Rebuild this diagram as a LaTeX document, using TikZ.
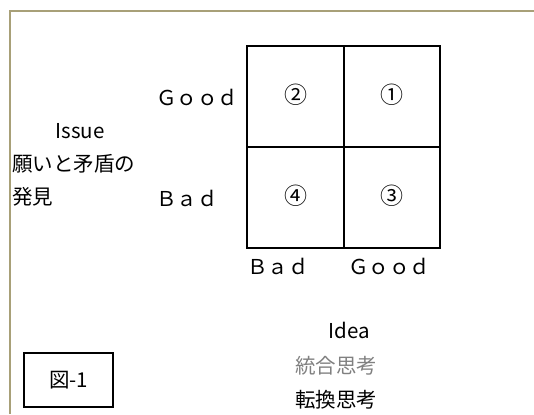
\documentclass[tikz,border=0pt]{standalone}
\usepackage{fontspec}
\setmainfont{Noto Sans CJK JP}
\definecolor{frameol}{RGB}{168,160,120}
\definecolor{midgray}{RGB}{128,128,128}
\tikzset{
  txt/.style={inner sep=0pt, font=\fontsize{20.5}{20.5}\selectfont},
  num/.style={inner sep=0pt, font=\fontsize{23}{23}\selectfont},
  gridline/.style={line width=1.8pt, black},
}
\begin{document}
\begin{tikzpicture}[x=1pt,y=-1pt]
\useasboundingbox (0,0) rectangle (534,414);
% frame
\draw[frameol, line width=2.2pt] (10,414) -- (10,11) -- (534,11);
% grid
\coordinate (g1) at (247,46);
\coordinate (g2) at (440,248);
\draw[gridline] (g1) rectangle (g2);
\draw[gridline] (344,46) -- (344,248);
\draw[gridline] (247,147) -- (440,147);
% quadrant labels
\node[num] (q2) at (296,95) {②};
\node[num] (q1) at (392,95) {①};
\node[num] (q4) at (296,196) {④};
\node[num] (q3) at (392,196) {③};
% axis labels
\node[txt, anchor=west] (ygood) at (156,97) {Ｇｏｏｄ};
\node[txt, anchor=west] (ybad) at (156,198) {Ｂａｄ};
\node[txt, anchor=west] (xbad) at (247,266) {Ｂａｄ};
\node[txt, anchor=west] (xgood) at (348,266) {Ｇｏｏｄ};
% issue
\node[txt] (issue) at (80,131) {Issue};
\node[txt, anchor=west] (wish) at (12,164) {願いと矛盾の};
\node[txt, anchor=west] (find) at (12,197) {発見};
% idea
\node[txt] (idea) at (349,330) {Idea};
\node[txt, text=midgray] (togo) at (336,366) {統合思考};
\node[txt] (tenkan) at (336,400) {転換思考};
% figure tag
\node[draw=black, line width=1.3pt, minimum width=89pt, minimum height=54pt, inner sep=0pt, font=\fontsize{20.5}{20.5}\selectfont] (fig) at (68.5,380) {図-1};
\end{tikzpicture}
\end{document}
